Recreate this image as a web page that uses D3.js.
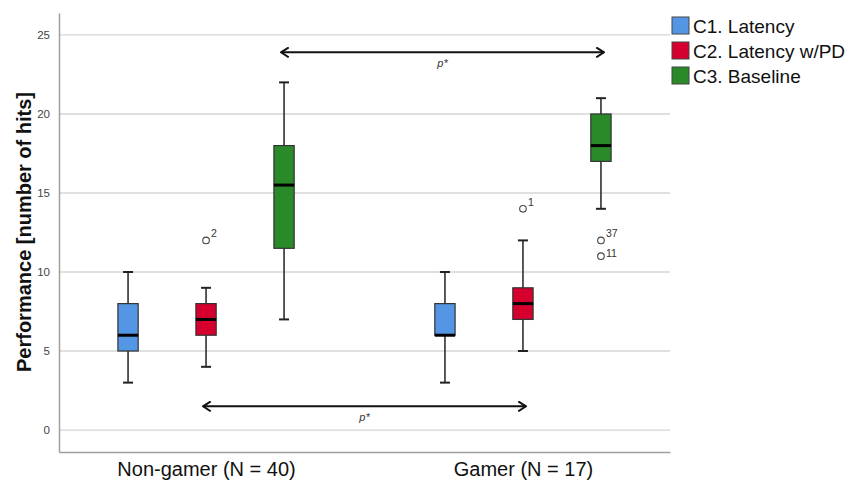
<!DOCTYPE html>
<html>
<head>
<meta charset="utf-8">
<script src="https://cdn.jsdelivr.net/npm/d3@7"></script>
<style>
  body { margin: 0; background: #fff; }
  text { font-family: Arial, "Liberation Sans", sans-serif; }
</style>
</head>
<body>
<div id="chart"></div>
<script>
// groups and series
const groups = ["Non-gamer (N = 40)", "Gamer (N = 17)"];
const series = ["C1. Latency", "C2. Latency w/PD", "C3. Baseline"];
const colors = ["#5596e4", "#d6002f", "#2a8a2a"];
// box stats per group: [min, q1, median, q3, max]
const nonGamer = [[3, 5, 6, 8, 10], [4, 6, 7, 8, 9], [7, 11.5, 15.5, 18, 22]];
const gamer = [[3, 6, 6, 8, 10], [5, 7, 8, 9, 12], [14, 17, 18, 20, 21]];
// outliers: [group, series, value, label]
const outliers = [[0, 1, 12, "2"], [1, 1, 14, "1"], [1, 2, 12, "37"], [1, 2, 11, "11"]];
const yTicks = [0, 5, 10, 15, 20, 25];
// significance arrows: [series, value level]
const arrows = [[2, 23.9], [1, 1.5]];

const W = 850, H = 480;
const svg = d3.select("#chart").append("svg").attr("width", W).attr("height", H);

const x = d3.scalePoint().domain(groups).range([59, 670]).padding(0.464);
const xs = d3.scaleBand().domain(series).range([-117, 117]).paddingInner(0.74).paddingOuter(0.37);
const y = d3.scaleLinear().domain([-1.39, 26.39]).range([452, 13]);

// gridlines
svg.append("g").selectAll("line").data(yTicks).enter().append("line")
    .attr("x1", 59).attr("x2", 670)
    .attr("y1", d => y(d)).attr("y2", d => y(d))
    .attr("stroke", "#d6d6d6").attr("stroke-width", 1.3);

// y axis
const yAxis = svg.append("g").attr("transform", "translate(59,0)")
    .call(d3.axisLeft(y).tickValues(yTicks).tickSize(0).tickPadding(9));
yAxis.select(".domain").attr("stroke", "#a0a0a0").attr("stroke-width", 1.5);
yAxis.selectAll("text").attr("font-size", 11.5).attr("fill", "#444")
    .attr("font-family", "Arial, 'Liberation Sans', sans-serif");

// x axis
const xAxis = svg.append("g").attr("transform", "translate(0,452)")
    .call(d3.axisBottom(x).tickSize(0).tickPadding(10));
xAxis.select(".domain").attr("stroke", "#a0a0a0").attr("stroke-width", 1.5);
xAxis.selectAll("text").attr("font-size", 20).attr("fill", "#111")
    .attr("font-family", "Arial, 'Liberation Sans', sans-serif");

// y title
svg.append("text")
    .attr("transform", "translate(31,232) rotate(-90)")
    .attr("text-anchor", "middle")
    .attr("font-size", 20).attr("font-weight", "bold").attr("fill", "#111")
    .text("Performance [number of hits]");

// boxes
const data = [];
[nonGamer, gamer].forEach((g, gi) => g.forEach((s, si) => data.push({g: gi, s: si, v: s})));
const bw = xs.bandwidth();
const cx = d => x(groups[d.g]) + xs(series[d.s]) + bw / 2;

const box = svg.append("g").selectAll("g").data(data).enter().append("g");
box.append("line")
    .attr("x1", cx).attr("x2", cx)
    .attr("y1", d => y(d.v[0])).attr("y2", d => y(d.v[4]))
    .attr("stroke", "#222").attr("stroke-width", 1.5);
box.append("line")
    .attr("x1", d => cx(d) - 5).attr("x2", d => cx(d) + 5)
    .attr("y1", d => y(d.v[0])).attr("y2", d => y(d.v[0]))
    .attr("stroke", "#222").attr("stroke-width", 2);
box.append("line")
    .attr("x1", d => cx(d) - 5).attr("x2", d => cx(d) + 5)
    .attr("y1", d => y(d.v[4])).attr("y2", d => y(d.v[4]))
    .attr("stroke", "#222").attr("stroke-width", 2);
box.append("rect")
    .attr("x", d => cx(d) - bw / 2).attr("width", bw)
    .attr("y", d => y(d.v[3])).attr("height", d => y(d.v[1]) - y(d.v[3]))
    .attr("fill", d => colors[d.s]).attr("stroke", "#333").attr("stroke-width", 1.2);
box.append("line")
    .attr("x1", d => cx(d) - bw / 2).attr("x2", d => cx(d) + bw / 2)
    .attr("y1", d => y(d.v[2])).attr("y2", d => y(d.v[2]))
    .attr("stroke", "#000").attr("stroke-width", 3);

// outliers
const out = svg.append("g").selectAll("g").data(outliers).enter().append("g");
out.append("circle")
    .attr("cx", d => cx({g: d[0], s: d[1]})).attr("cy", d => y(d[2]))
    .attr("r", 3.3).attr("fill", "#fff").attr("stroke", "#444").attr("stroke-width", 1.1);
out.append("text")
    .attr("x", d => cx({g: d[0], s: d[1]}) + 5)
    .attr("y", d => y(d[2]) - (d[3] === "11" ? -1 : 3))
    .attr("font-size", 10.5).attr("fill", "#333")
    .text(d => d[3]);

// significance arrows
svg.append("defs").selectAll("marker").data(["start", "end"]).enter().append("marker")
    .attr("id", d => "arr-" + d)
    .attr("viewBox", "0 0 10 10").attr("refX", d => d === "end" ? 9 : 1).attr("refY", 5)
    .attr("markerWidth", 11).attr("markerHeight", 11).attr("markerUnits", "userSpaceOnUse")
    .attr("orient", "auto")
    .append("path")
    .attr("d", d => d === "end" ? "M2,0.5L9,5L2,9.5" : "M8,0.5L1,5L8,9.5")
    .attr("fill", "none").attr("stroke", "#111").attr("stroke-width", 1.8);

const arr = svg.append("g").selectAll("g").data(arrows).enter().append("g");
arr.append("line")
    .attr("x1", d => cx({g: 0, s: d[0]}) - 3).attr("x2", d => cx({g: 1, s: d[0]}) + 3)
    .attr("y1", d => y(d[1])).attr("y2", d => y(d[1]))
    .attr("stroke", "#111").attr("stroke-width", 2)
    .attr("marker-start", "url(#arr-start)").attr("marker-end", "url(#arr-end)");
arr.append("text")
    .attr("x", d => (cx({g: 0, s: d[0]}) + cx({g: 1, s: d[0]})) / 2)
    .attr("y", d => y(d[1]) + 15)
    .attr("text-anchor", "middle").attr("font-size", 11).attr("font-style", "italic")
    .attr("fill", "#333")
    .text("p*");

// legend
const leg = svg.append("g").attr("transform", "translate(672,17)")
    .selectAll("g").data(series).enter().append("g")
    .attr("transform", (d, i) => "translate(0," + i * 25 + ")");
leg.append("rect").attr("width", 17).attr("height", 17)
    .attr("fill", (d, i) => colors[i]).attr("stroke", "#444").attr("stroke-width", 1);
leg.append("text").attr("x", 21).attr("y", 16)
    .attr("font-size", 19).attr("fill", "#111")
    .text(d => d);
</script>
</body>
</html>
